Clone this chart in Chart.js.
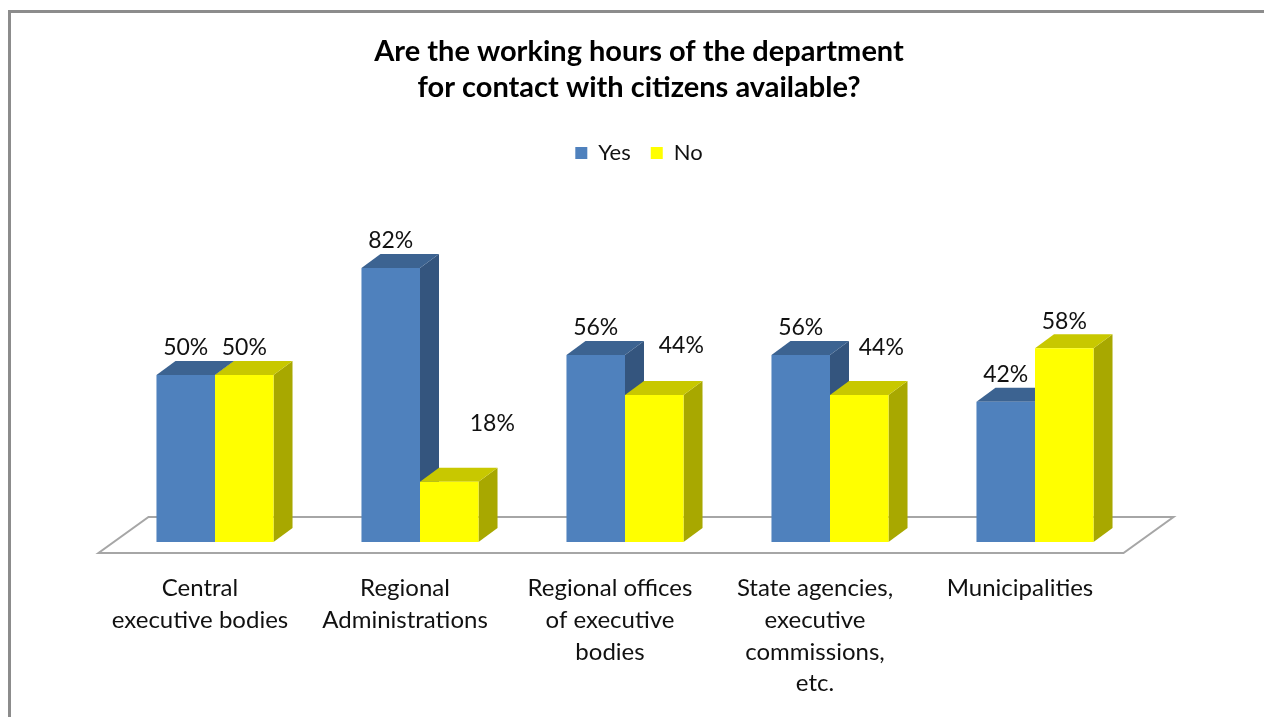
<!DOCTYPE html>
<html>
<head>
<meta charset="utf-8">
<title>Working hours for contact with citizens</title>
<script src="https://cdn.jsdelivr.net/npm/chart.js@4.4.1/dist/chart.umd.min.js"></script>
<style>
  html, body { margin: 0; padding: 0; background: #fff; overflow: hidden; }
  #frame { position: absolute; left: 8px; top: 10px; width: 1300px; height: 760px; border: 3px solid #8c8c8c; }
  #wrap { position: absolute; left: 0; top: 0; width: 1264px; height: 717px; }
</style>
</head>
<body>
<div id="frame"></div>
<div id="wrap"><canvas id="hoursChart" width="1264" height="717"></canvas></div>
<script>
const titleLines = ['Are the working hours of the department', 'for contact with citizens available?'];
const categories = [
    ['Central', 'executive bodies'],
    ['Regional', 'Administrations'],
    ['Regional offices', 'of executive', 'bodies'],
    ['State agencies,', 'executive', 'commissions,', 'etc.'],
    ['Municipalities']
];
const seriesNames = ['Yes', 'No'];
const yesValues = [50, 82, 56, 56, 42];
const noValues = [50, 18, 44, 44, 58];

// front / top / side shading for the fake 3D columns
const faces = [
    { front: '#4f81bd', top: '#3c6391', side: '#34557e' },
    { front: '#ffff00', top: '#c8c800', side: '#a8a800' }
];
const DEPTH_X = 19;
const DEPTH_Y = 14;
// a few "No" labels sit beside the column instead of on top of it
const noLabelShift = [[0, 0], [43, -31], [27, -22], [22, -20], [0, 0]];

const FONT = 'Lato, "Open Sans", sans-serif';

const bars3d = {
    id: 'bars3d',
    afterLayout(chart) {
        // title and legend sit a little right of the plot centre
        [chart.titleBlock, chart.legend].forEach(box => {
            box.left += 14;
            box.right += 14;
        });
    },
    beforeDatasetsDraw(chart) {
        const { ctx, chartArea: a } = chart;
        ctx.save();
        // floor
        ctx.beginPath();
        ctx.moveTo(a.left - 14, a.bottom + 11);
        ctx.lineTo(a.right - 14, a.bottom + 11);
        ctx.lineTo(a.right + 36, a.bottom - 25);
        ctx.lineTo(a.left + 36, a.bottom - 25);
        ctx.closePath();
        ctx.fillStyle = '#ffffff';
        ctx.fill();
        ctx.strokeStyle = '#a6a6a6';
        ctx.lineWidth = 2;
        ctx.stroke();

        // top and side faces; the library paints the fronts afterwards
        chart.data.datasets.forEach((ds, i) => {
            const f = faces[i];
            chart.getDatasetMeta(i).data.forEach(bar => {
                const { x, y, base, width } = bar.getProps(['x', 'y', 'base', 'width'], true);
                const l = x - width / 2;
                const r = x + width / 2;
                ctx.fillStyle = f.side;
                ctx.beginPath();
                ctx.moveTo(r, y);
                ctx.lineTo(r + DEPTH_X, y - DEPTH_Y);
                ctx.lineTo(r + DEPTH_X, base - DEPTH_Y);
                ctx.lineTo(r, base);
                ctx.closePath();
                ctx.fill();
                ctx.fillStyle = f.top;
                ctx.beginPath();
                ctx.moveTo(l, y);
                ctx.lineTo(r, y);
                ctx.lineTo(r + DEPTH_X, y - DEPTH_Y);
                ctx.lineTo(l + DEPTH_X, y - DEPTH_Y);
                ctx.closePath();
                ctx.fill();
            });
        });
        ctx.restore();
    },
    afterDatasetsDraw(chart) {
        const { ctx } = chart;
        ctx.save();
        ctx.font = '23px ' + FONT;
        ctx.fillStyle = '#111';
        ctx.textAlign = 'center';
        ctx.textBaseline = 'middle';
        chart.data.datasets.forEach((ds, i) => {
            chart.getDatasetMeta(i).data.forEach((bar, j) => {
                const shift = i === 1 ? noLabelShift[j] : [0, 0];
                ctx.fillText(ds.data[j] + '%', bar.x + shift[0], bar.y - 27 + shift[1]);
            });
        });
        ctx.restore();
    }
};

// extra room between the legend and the plot
const legendGap = {
    id: 'legendGap',
    beforeInit(chart) {
        const fit = chart.legend.fit;
        chart.legend.fit = function () {
            fit.bind(chart.legend)();
            this.height += 34;
        };
    }
};

new Chart(document.getElementById('hoursChart'), {
    type: 'bar',
    data: {
        labels: categories,
        datasets: [
            { label: seriesNames[0], data: yesValues, backgroundColor: faces[0].front },
            { label: seriesNames[1], data: noValues, backgroundColor: faces[1].front }
        ]
    },
    options: {
        responsive: false,
        animation: false,
        layout: { padding: { left: 112.5, right: 126.5, top: 0, bottom: 0 } },
        datasets: { bar: { barPercentage: 1, categoryPercentage: 0.571 } },
        scales: {
            x: {
                grid: { display: false, drawTicks: false },
                border: { display: false },
                ticks: {
                    color: '#111',
                    font: { family: FONT, size: 24, lineHeight: 1.33 },
                    padding: 30,
                    labelOffset: -15,
                    maxRotation: 0,
                    autoSkip: false
                },
                afterFit(scale) {
                    scale.height = 175;
                }
            },
            y: { display: false, min: 0, max: 100 }
        },
        plugins: {
            title: {
                display: true,
                text: titleLines,
                color: '#000',
                font: { family: FONT, size: 29, weight: 'bold', lineHeight: 1.24 },
                padding: { top: 34, bottom: 16 }
            },
            legend: {
                position: 'top',
                labels: {
                    color: '#111',
                    font: { family: FONT, size: 22 },
                    boxWidth: 12,
                    boxHeight: 12,
                    padding: 20
                }
            },
            tooltip: { enabled: false }
        }
    },
    plugins: [bars3d, legendGap]
});
</script>
</body>
</html>
